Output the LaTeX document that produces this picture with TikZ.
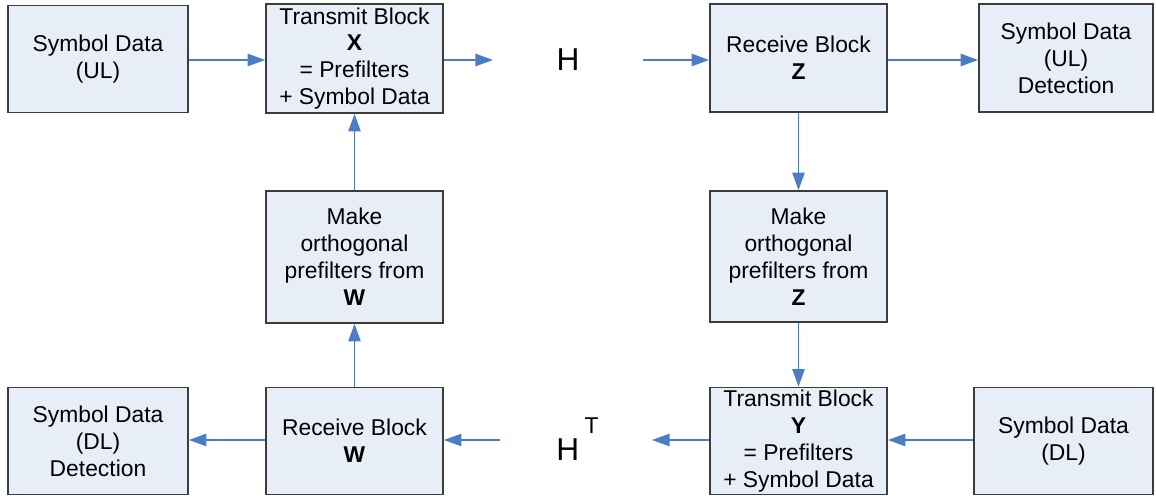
\documentclass[tikz,border=0pt]{standalone}
\usepackage{fontspec}
\setmainfont{Liberation Sans}
\usetikzlibrary{arrows.meta}

\definecolor{boxfill}{HTML}{E8EEF8}
\definecolor{boxline}{HTML}{3C3C3C}
\definecolor{linkblue}{HTML}{4A7CC8}

\tikzset{
  block/.style={draw=boxline, fill=boxfill, line width=1pt, align=center,
    minimum width=3.54cm, minimum height=2.14cm, inner sep=0pt,
    font=\fontsize{13}{15.3}\selectfont},
  link/.style={draw=linkblue, line width=1pt, -{Triangle[length=10pt,width=7pt]}},
  chan/.style={font=\fontsize{18}{20}\selectfont}
}

\begin{document}
\begin{tikzpicture}
        \useasboundingbox (0, 0) rectangle (23.12, -9.94);

        \node[block, minimum width=3.6cm] (symUL) at (1.96, -1.18) {Symbol Data\\(UL)};
        \node[block, minimum height=2.18cm] (txX) at (7.09, -1.17) {Transmit Block\\\textbf{X}\\= Prefilters\\+ Symbol Data};
        \node[chan] (chH) at (11.36, -1.2) {H};
        \node[block, minimum height=2.16cm] (rxZ) at (15.97, -1.16) {Receive Block\\\textbf{Z}};
        \node[block, minimum width=3.48cm, minimum height=2.16cm] (symULdet) at (21.32, -1.16) {Symbol Data\\(UL)\\Detection};

        \node[block, minimum height=2.64cm] (mkW) at (7.09, -5.14) {Make\\orthogonal\\prefilters from\\\textbf{W}};
        \node[block, minimum height=2.62cm] (mkZ) at (15.97, -5.13) {Make\\orthogonal\\prefilters from\\\textbf{Z}};

        \node[block, minimum width=3.6cm] (symDLdet) at (1.96, -8.82) {Symbol Data\\(DL)\\Detection};
        \node[block] (rxW) at (7.09, -8.82) {Receive Block\\\textbf{W}};
        \node[chan] (chHT) at (11.55, -8.78) {H\,\raisebox{1.6ex}{\fontsize{13}{15}\selectfont T}};
        \node[block] (txY) at (15.97, -8.82) {Transmit Block\\\textbf{Y}\\= Prefilters\\+ Symbol Data};
        \node[block, minimum width=3.58cm] (symDL) at (21.27, -8.82) {Symbol Data\\(DL)};

        \coordinate (hOut) at (9.86, -1.2);
        \coordinate (hIn) at (12.86, -1.2);
        \coordinate (htOut) at (13.04, -8.8);
        \coordinate (htIn) at (10.0, -8.8);

        \draw[link] (symUL.east |- 0, -1.2) -- (txX.west |- 0, -1.2);
        \draw[link] (txX.east |- hOut) -- (hOut);
        \draw[link] (hIn) -- (rxZ.west |- hIn);
        \draw[link] (rxZ.east |- hIn) -- (symULdet.west |- hIn);
        \draw[link] (rxZ.south) -- (mkZ.north);
        \draw[link] (mkZ.south) -- (txY.north);
        \draw[link] (symDL.west |- htIn) -- (txY.east |- htIn);
        \draw[link] (txY.west |- htOut) -- (htOut);
        \draw[link] (htIn) -- (rxW.east |- htIn);
        \draw[link] (rxW.west |- htIn) -- (symDLdet.east |- htIn);
        \draw[link] (rxW.north) -- (mkW.south);
        \draw[link] (mkW.north) -- (txX.south);
      \end{tikzpicture}
\end{document}
